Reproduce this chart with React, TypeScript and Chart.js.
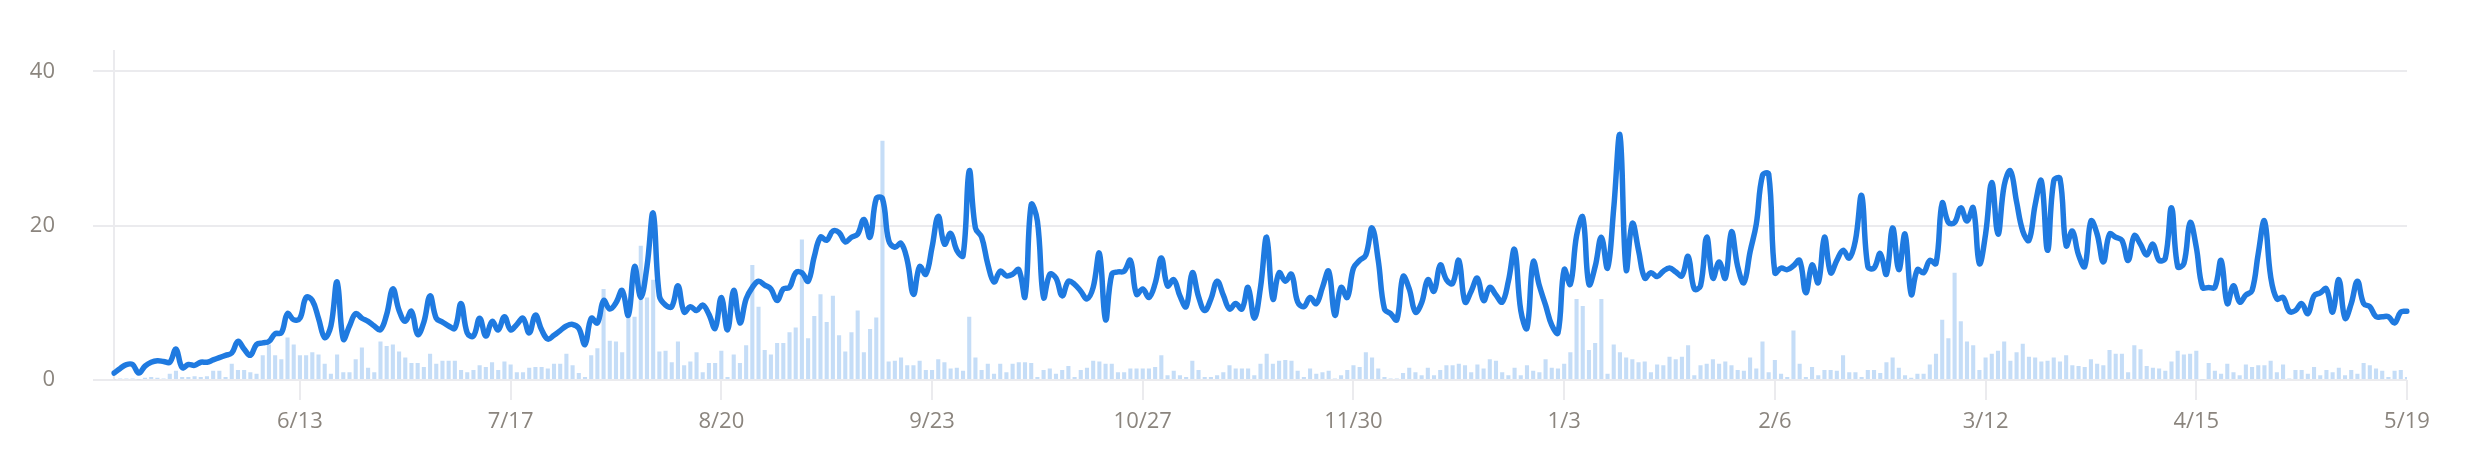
import { useEffect, useRef } from "react";
import { Chart, registerables } from "chart.js";

Chart.register(...registerables);

// First day of the daily series; one category per day.
const START_DATE = "2022-05-14";

// Days that carry a label on the x axis.
const TICK_DATES = [
  "2022-06-13", "2022-07-17", "2022-08-20", "2022-09-23", "2022-10-27", "2022-11-30",
  "2023-01-03", "2023-02-06", "2023-03-12", "2023-04-15", "2023-05-19",
];

// Daily trend line.
const LINE_VALUES = [
  0.9, 1.5, 2.0, 2.0, 0.9, 1.8, 2.3, 2.5, 2.4, 2.3,
  4.0, 1.6, 2.0, 1.9, 2.3, 2.3, 2.6, 2.9, 3.2, 3.5,
  5.0, 4.0, 3.2, 4.6, 4.8, 5.0, 6.0, 6.1, 8.6, 7.8,
  8.0, 10.7, 10.3, 8.0, 5.5, 7.0, 12.7, 5.3, 7.0, 8.6,
  8.0, 7.6, 7.0, 6.5, 8.5, 11.8, 9.0, 7.6, 8.9, 5.9,
  7.5, 10.9, 8.0, 7.5, 7.0, 6.7, 9.9, 6.1, 5.7, 8.0,
  5.7, 7.6, 6.5, 8.2, 6.5, 7.2, 8.0, 6.1, 8.4, 6.5,
  5.3, 5.8, 6.4, 7.0, 7.2, 6.7, 4.6, 8.0, 7.4, 10.3,
  9.2, 10.0, 11.6, 8.4, 14.7, 10.7, 14.7, 21.6, 10.9, 9.7,
  9.5, 12.2, 8.8, 9.5, 9.0, 9.7, 8.5, 6.7, 10.7, 6.5,
  11.6, 7.4, 10.5, 12.0, 12.8, 12.3, 11.8, 10.3, 11.8, 12.0,
  13.9, 13.9, 12.8, 16.0, 18.5, 18.1, 19.3, 19.1, 17.9, 18.5,
  18.9, 20.8, 18.5, 23.5, 23.5, 18.1, 17.2, 17.7, 15.5, 11.1,
  14.7, 13.7, 17.2, 21.2, 17.6, 19.0, 16.8, 16.1, 27.1, 19.7,
  18.5, 15.0, 12.7, 14.1, 13.5, 13.7, 14.3, 10.8, 22.7, 20.6,
  10.7, 13.7, 13.2, 10.9, 12.8, 12.4, 11.5, 10.5, 12.0, 16.4,
  7.8, 13.7, 14.0, 14.1, 15.5, 11.1, 11.8, 10.7, 12.5, 15.8,
  12.2, 13.0, 10.9, 9.5, 13.9, 10.8, 9.0, 10.5, 12.8, 11.0,
  9.2, 9.9, 9.2, 12.0, 8.0, 12.0, 18.5, 10.5, 13.9, 12.8,
  13.7, 10.1, 9.5, 10.7, 9.9, 12.0, 14.1, 8.4, 12.0, 10.7,
  14.5, 15.5, 16.2, 19.7, 15.5, 9.2, 8.6, 7.8, 13.4, 11.8,
  8.8, 10.0, 13.0, 11.5, 14.9, 13.0, 12.5, 15.5, 10.1, 11.5,
  13.2, 10.3, 12.0, 11.0, 10.1, 12.8, 16.9, 9.0, 6.7, 15.3,
  12.2, 9.7, 7.1, 6.1, 14.3, 12.4, 18.7, 21.1, 12.4, 14.7,
  18.5, 14.5, 22.3, 31.7, 14.3, 20.3, 16.8, 13.2, 13.9, 13.4,
  14.1, 14.5, 14.0, 13.5, 16.0, 11.8, 12.2, 18.5, 13.2, 15.3,
  13.2, 19.2, 14.7, 12.6, 16.6, 20.2, 26.5, 26.7, 13.9, 14.5,
  14.3, 14.8, 15.5, 11.3, 14.9, 12.6, 18.5, 13.9, 15.5, 16.8,
  15.8, 18.1, 23.9, 14.7, 14.5, 16.4, 13.7, 19.7, 14.3, 18.9,
  11.1, 14.3, 13.9, 15.5, 15.1, 22.9, 20.4, 20.4, 22.3, 20.6,
  22.3, 15.1, 18.9, 25.6, 18.9, 25.2, 27.1, 23.1, 19.3, 18.1,
  22.7, 25.8, 16.8, 25.8, 26.1, 17.4, 19.3, 16.2, 14.7, 20.6,
  18.9, 15.3, 18.9, 18.5, 18.1, 15.5, 18.7, 17.6, 16.2, 17.6,
  15.5, 15.8, 22.3, 14.7, 15.1, 20.4, 17.2, 12.0, 12.0, 12.0,
  15.5, 9.9, 12.2, 10.1, 11.0, 11.6, 16.4, 20.6, 13.4, 10.5,
  10.7, 8.9, 9.0, 9.9, 8.6, 10.9, 11.3, 11.8, 8.8, 13.0,
  8.0, 9.9, 12.8, 9.9, 9.5, 8.2, 8.2, 8.2, 7.4, 8.8,
  8.9,
];

// Daily counts shown as bars.
const BAR_VALUES = [
  0.1, 0.2, 0.2, 0.2, 0.1, 0.3, 0.4, 0.3, 0.2, 0.8,
  1.2, 0.4, 0.4, 0.5, 0.4, 0.5, 1.2, 1.2, 0.4, 2.1,
  1.3, 1.3, 1.0, 0.8, 3.2, 4.6, 3.2, 2.7, 5.5, 4.6,
  3.2, 3.2, 3.6, 3.3, 2.1, 0.8, 3.3, 1.0, 1.0, 2.7,
  4.2, 1.6, 1.0, 5.0, 4.4, 4.6, 3.7, 2.9, 2.2, 2.2,
  1.7, 3.4, 2.1, 2.5, 2.5, 2.5, 1.3, 1.0, 1.3, 1.9,
  1.7, 2.3, 1.3, 2.4, 2.0, 1.0, 1.0, 1.6, 1.7, 1.7,
  1.5, 2.1, 2.1, 3.4, 1.9, 0.9, 0.4, 3.2, 4.1, 11.8,
  5.1, 5.0, 3.6, 8.2, 8.2, 17.4, 10.7, 13.0, 3.7, 3.8,
  2.3, 5.0, 1.9, 2.4, 3.6, 1.0, 2.2, 2.2, 3.8, 0.4,
  3.3, 2.2, 4.5, 14.9, 9.5, 3.9, 3.3, 4.8, 4.8, 6.2,
  6.8, 18.2, 5.4, 8.3, 11.1, 7.5, 10.9, 5.8, 3.7, 6.2,
  9.0, 3.6, 6.6, 8.1, 31.0, 2.4, 2.5, 2.9, 1.9, 1.9,
  2.5, 1.3, 1.3, 2.7, 2.3, 1.5, 1.6, 1.2, 8.2, 2.9,
  1.3, 2.1, 0.8, 2.1, 1.0, 2.1, 2.3, 2.3, 2.2, 0.4,
  1.3, 1.5, 0.8, 1.3, 1.8, 0.4, 1.3, 1.6, 2.5, 2.4,
  2.1, 2.1, 1.0, 1.0, 1.5, 1.5, 1.5, 1.5, 1.7, 3.2,
  0.6, 1.2, 0.6, 0.4, 2.5, 1.3, 0.4, 0.4, 0.6, 1.0,
  1.9, 1.5, 1.5, 1.5, 0.6, 2.1, 3.4, 2.1, 2.5, 2.6,
  2.5, 1.2, 0.4, 1.5, 0.8, 1.0, 1.2, 0.2, 0.6, 1.3,
  1.9, 1.7, 3.6, 2.9, 1.5, 0.4, 0.2, 0.2, 0.9, 1.6,
  1.0, 0.6, 1.6, 0.6, 1.3, 1.9, 1.9, 2.1, 1.9, 1.0,
  2.0, 1.5, 2.7, 2.5, 1.0, 0.6, 1.6, 0.6, 1.9, 1.2,
  1.0, 2.7, 1.6, 1.5, 2.1, 3.6, 10.5, 9.6, 3.9, 4.8,
  10.5, 0.8, 4.6, 3.6, 2.9, 2.7, 2.3, 2.4, 1.0, 2.0,
  1.9, 3.0, 2.7, 3.0, 4.5, 0.6, 1.9, 2.1, 2.7, 2.1,
  2.4, 1.9, 1.3, 1.2, 2.9, 1.5, 5.0, 1.0, 2.6, 0.8,
  0.4, 6.4, 2.1, 0.4, 1.7, 0.6, 1.3, 1.3, 1.2, 3.2,
  1.0, 1.0, 0.4, 1.3, 1.3, 0.9, 2.3, 2.9, 1.6, 0.6,
  0.3, 0.8, 0.8, 2.0, 3.4, 7.8, 5.4, 13.9, 7.6, 5.0,
  4.5, 1.3, 2.9, 3.4, 3.8, 5.0, 2.5, 3.6, 4.7, 3.0,
  2.9, 2.4, 2.5, 2.9, 2.4, 3.2, 1.9, 1.8, 1.7, 2.7,
  2.1, 1.9, 3.9, 3.4, 3.4, 1.0, 4.5, 4.0, 1.8, 1.6,
  1.5, 1.2, 2.4, 3.8, 3.3, 3.4, 3.8, 0.1, 2.2, 1.2,
  0.8, 2.1, 1.0, 0.6, 2.0, 1.7, 1.9, 1.9, 2.5, 1.0,
  2.0, 0.2, 1.3, 1.3, 0.8, 1.7, 0.6, 1.3, 1.0, 1.6,
  0.6, 1.3, 0.8, 2.2, 1.9, 1.5, 1.2, 0.4, 1.2, 1.3,
  0.4,
];

const Y_MAX = 42.6;
const Y_STEP = 20;

const LINE_COLOR = "#1f7ae0";
const BAR_COLOR = "rgba(31, 122, 224, 0.26)";
const GRID_COLOR = "#ebebee";
const TICK_COLOR = "#8b857e";
const FONT_FAMILY = "'Open Sans', 'Noto Sans', sans-serif";

// ISO dates ("YYYY-MM-DD"), one per day from the start date.
function dayKeys(start: string, count: number): string[] {
  const base = new Date(start + "T00:00:00Z").getTime();
  const out: string[] = [];
  for (let i = 0; i < count; i++) {
    out.push(new Date(base + i * 86400000).toISOString().slice(0, 10));
  }
  return out;
}

// "YYYY-MM-DD" -> "M/D"
function shortDate(key: string): string {
  const [, m, d] = key.split("-");
  return `${Number(m)}/${Number(d)}`;
}

export default function App() {
  const canvasRef = useRef<HTMLCanvasElement | null>(null);

  useEffect(() => {
    const canvas = canvasRef.current;
    if (!canvas) return;
    const labels = dayKeys(START_DATE, LINE_VALUES.length);

    const chart = new Chart(canvas, {
      type: "bar",
      data: {
        labels,
        datasets: [
          {
            type: "line",
            data: LINE_VALUES,
            borderColor: LINE_COLOR,
            borderWidth: 5.5,
            borderJoinStyle: "round",
            borderCapStyle: "round",
            pointRadius: 0,
            pointHoverRadius: 0,
            tension: 0.4,
            fill: false,
            order: 1,
          } as any,
          {
            type: "bar",
            data: BAR_VALUES,
            backgroundColor: BAR_COLOR,
            borderWidth: 0,
            barPercentage: 0.66,
            categoryPercentage: 1,
            order: 2,
          },
        ],
      },
      options: {
        animation: false,
        responsive: true,
        maintainAspectRatio: false,
        layout: { padding: { top: 42, right: 64, bottom: 14, left: 0 } },
        plugins: {
          legend: { display: false },
          tooltip: { enabled: false },
        },
        scales: {
          x: {
            offset: false,
            grid: {
              offset: false,
              drawOnChartArea: false,
              drawTicks: true,
              tickLength: 20,
              color: GRID_COLOR,
              lineWidth: 2,
            },
            border: { display: false },
            ticks: {
              autoSkip: false,
              maxRotation: 0,
              padding: 9,
              color: TICK_COLOR,
              font: { family: FONT_FAMILY, size: 22 },
              callback: (value: any) => shortDate(labels[value as number]),
            },
            afterBuildTicks: (scale: any) => {
              scale.ticks = scale.ticks.filter((t: any) => TICK_DATES.includes(labels[t.value]));
            },
            afterFit: (scale: any) => {
              scale.height = 60;
            },
          },
          y: {
            min: 0,
            max: Y_MAX,
            grid: {
              color: GRID_COLOR,
              lineWidth: 2,
              tickLength: 21,
              drawTicks: true,
            },
            border: { color: GRID_COLOR, width: 2 },
            ticks: {
              stepSize: Y_STEP,
              includeBounds: false,
              padding: 38,
              color: TICK_COLOR,
              font: { family: FONT_FAMILY, size: 22 },
            },
            afterFit: (scale: any) => {
              scale.width = 114;
            },
          },
        },
      },
    });

    return () => chart.destroy();
  }, []);

  return (
    <div
      style={{
        position: "fixed",
        left: 0,
        top: 0,
        width: 2471,
        height: 454,
        background: "#ffffff",
      }}
    >
      <canvas ref={canvasRef} />
    </div>
  );
}
